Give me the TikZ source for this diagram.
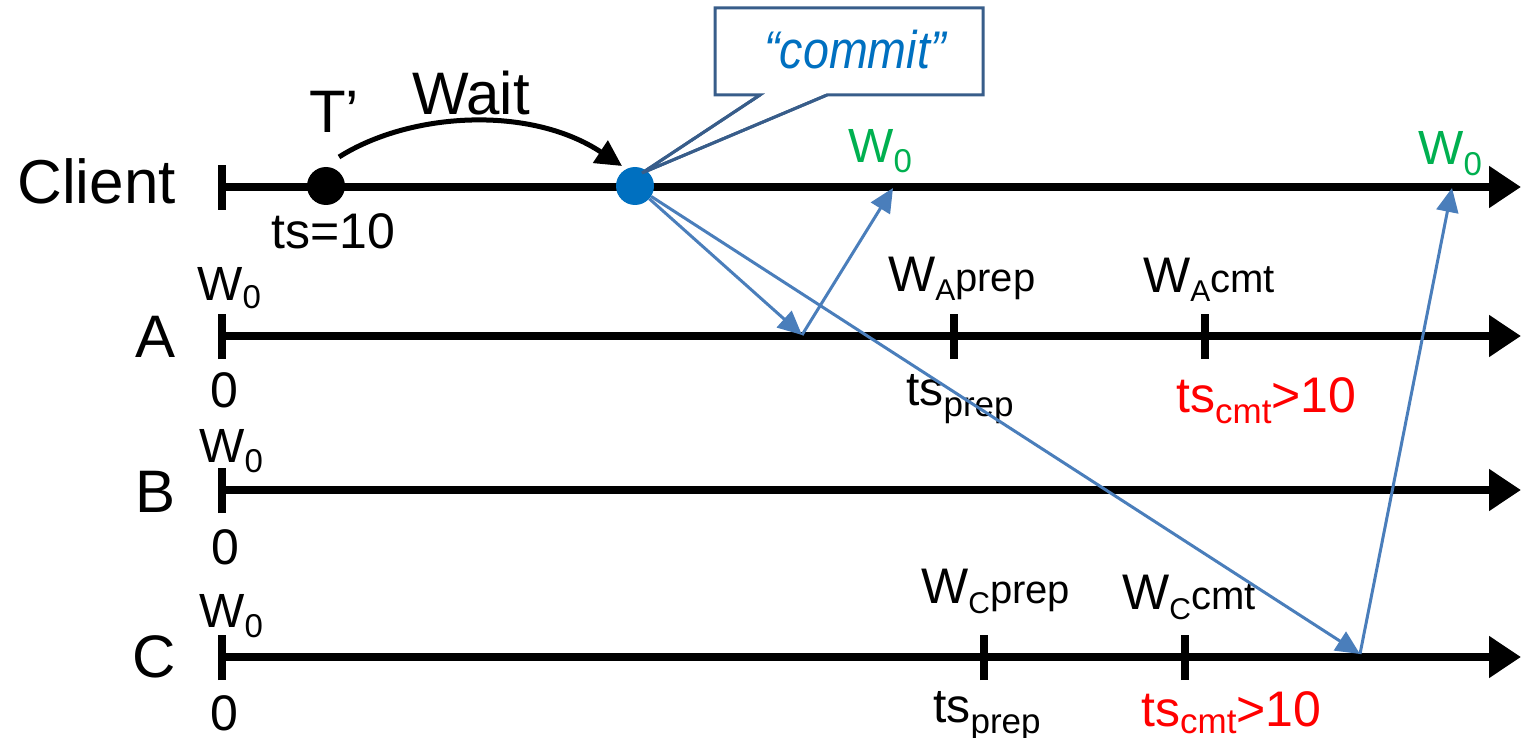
\documentclass[tikz,border=0pt]{standalone}
\usepackage{fontspec}
\setmainfont{Liberation Sans}
\usetikzlibrary{arrows.meta}
\definecolor{cgreen}{HTML}{00B050}
\definecolor{cred}{HTML}{FF0000}
\definecolor{cdot}{HTML}{0070C0}
\definecolor{carrow}{HTML}{4A7EBB}
\definecolor{cbox}{HTML}{385D8A}
\newcommand{\fs}[1]{\fontsize{#1}{#1}\selectfont}
\newcommand{\sbx}[3]{\raisebox{-#2pt}{\fs{#1}#3}}
\begin{document}
\begin{tikzpicture}[x=1pt,y=-1pt,
  lbl/.style={inner sep=0pt, anchor=base west},
  big/.style={inner sep=0pt, anchor=base east, font=\fs{60}},
  axis/.style={line width=8pt, -{Triangle[length=32pt,width=40pt]}},
  tickmark/.style={line width=8pt},
  msg/.style={carrow, line width=3pt, -{Triangle[length=24pt,width=22pt]}},
  dot/.style={circle, inner sep=0pt, minimum size=38pt},
]
\useasboundingbox (0,0) rectangle (1521,738);

% row coordinates
\coordinate (cL) at (222,187); \coordinate (cR) at (1521,187);
\coordinate (aL) at (222,336); \coordinate (aR) at (1521,336);
\coordinate (bL) at (222,490); \coordinate (bR) at (1521,490);
\coordinate (dL) at (222,657); \coordinate (dR) at (1521,657);

% row names
\node[big, font=\fs{62}] (nClient) at (176,204) {Client};
\node[big] (nA) at (176,357) {A};
\node[big] (nB) at (176,512) {B};
\node[big] (nC) at (176,677) {C};

% axes
\draw[axis] (cL) -- (cR);
\draw[axis] (aL) -- (aR);
\draw[axis] (bL) -- (bR);
\draw[axis] (dL) -- (dR);

% start ticks
\draw[tickmark] ([yshift=-23pt]cL) -- ([yshift=22pt]cL);
\draw[tickmark] ([yshift=-23pt]aL) -- ([yshift=22pt]aL);
\draw[tickmark] ([yshift=-23pt]bL) -- ([yshift=22pt]bL);
\draw[tickmark] ([yshift=-23pt]dL) -- ([yshift=22pt]dL);

% other ticks
\coordinate (aP) at (954,336); \coordinate (aC) at (1205,336);
\coordinate (dP) at (984,657); \coordinate (dC) at (1185,657);
\draw[tickmark] ([yshift=-23pt]aP) -- ([yshift=22pt]aP);
\draw[tickmark] ([yshift=-23pt]aC) -- ([yshift=22pt]aC);
\draw[tickmark] ([yshift=-23pt]dP) -- ([yshift=22pt]dP);
\draw[tickmark] ([yshift=-23pt]dC) -- ([yshift=22pt]dC);

% W0 and 0 labels at start
\node[lbl] (w0A) at (197,300) {\fs{48}W\sbx{33}{8}{0}};
\node[lbl] (w0B) at (199,462) {\fs{48}W\sbx{33}{10}{0}};
\node[lbl] (w0C) at (199,627) {\fs{48}W\sbx{33}{10}{0}};
\node[inner sep=0pt, anchor=base, font=\fs{50}] (zA) at (224,407) {0};
\node[inner sep=0pt, anchor=base, font=\fs{50}] (zB) at (225,564) {0};
\node[inner sep=0pt, anchor=base, font=\fs{50}] (zC) at (224,730) {0};

% A labels
\node[lbl] (wAp) at (888,291) {\fs{50}W\sbx{30}{9}{A}\fs{40}prep};
\node[lbl] (wAc) at (1143,292) {\fs{50}W\sbx{30}{9}{A}\fs{40}cmt};
\node[lbl] (tAp) at (906,405) {\fs{48}ts\sbx{35}{11}{prep}};
\node[lbl, text=cred] (tAc) at (1176,412) {\fs{50}ts\sbx{35}{11}{cmt}\fs{50}>10};

% C labels
\node[lbl] (wCp) at (921,603) {\fs{50}W\sbx{30}{10}{C}\fs{40}prep};
\node[lbl] (wCc) at (1122,609) {\fs{50}W\sbx{30}{10}{C}\fs{40}cmt};
\node[lbl] (tCp) at (933,722) {\fs{48}ts\sbx{35}{11}{prep}};
\node[lbl, text=cred] (tCc) at (1141,726) {\fs{50}ts\sbx{35}{7}{cmt}\fs{50}>10};

% client labels
\node[lbl, font=\fs{60}] (tprime) at (309,133) {T’};
\node[lbl, font=\fs{60}] (wait) at (412,115) {Wait};
\node[lbl, font=\fs{50}] (ts10) at (271,248) {ts=10};
\node[lbl, text=cgreen] (g1) at (848,163) {\fs{48}W\sbx{33}{10}{0}};
\node[lbl, text=cgreen] (g2) at (1418,165) {\fs{48}W\sbx{33}{11}{0}};

% callout
\coordinate (tailtip) at (642,173);
\draw[cbox, line width=3pt, fill=white, line join=miter]
  (715,8) -- (983,8) -- (983,95) -- (827,95) -- (tailtip) -- (760,95) -- (715,95) -- cycle;
\node[inner sep=0pt, text=cdot, font=\fs{53}\itshape] (commit) at (855,50) {\scalebox{0.88}[1]{“commit”}};

% dots
\node[dot, fill=black] (tdot) at (326,186) {};
\node[dot, fill=cdot] (bdot) at (635,186) {};
\draw[cbox, line width=3pt] (760,95) -- (tailtip) -- (827,95);

% wait arrow
\coordinate (ws) at (339,157);
\coordinate (we) at (622,166);
\draw[line width=5pt, -{Triangle[length=26pt,width=26pt]}]
  (ws) .. controls (410,112) and (530,105) .. (we);

% messages
\coordinate (aHit) at (802,335);
\coordinate (g1tip) at (893,188);
\coordinate (cHit) at (1360,654);
\coordinate (g2tip) at (1452,188);
\draw[msg] (bdot) -- (aHit);
\draw[msg] (aHit) -- (g1tip);
\draw[msg] (bdot) -- (cHit);
\draw[msg] (cHit) -- (g2tip);
\end{tikzpicture}
\end{document}
